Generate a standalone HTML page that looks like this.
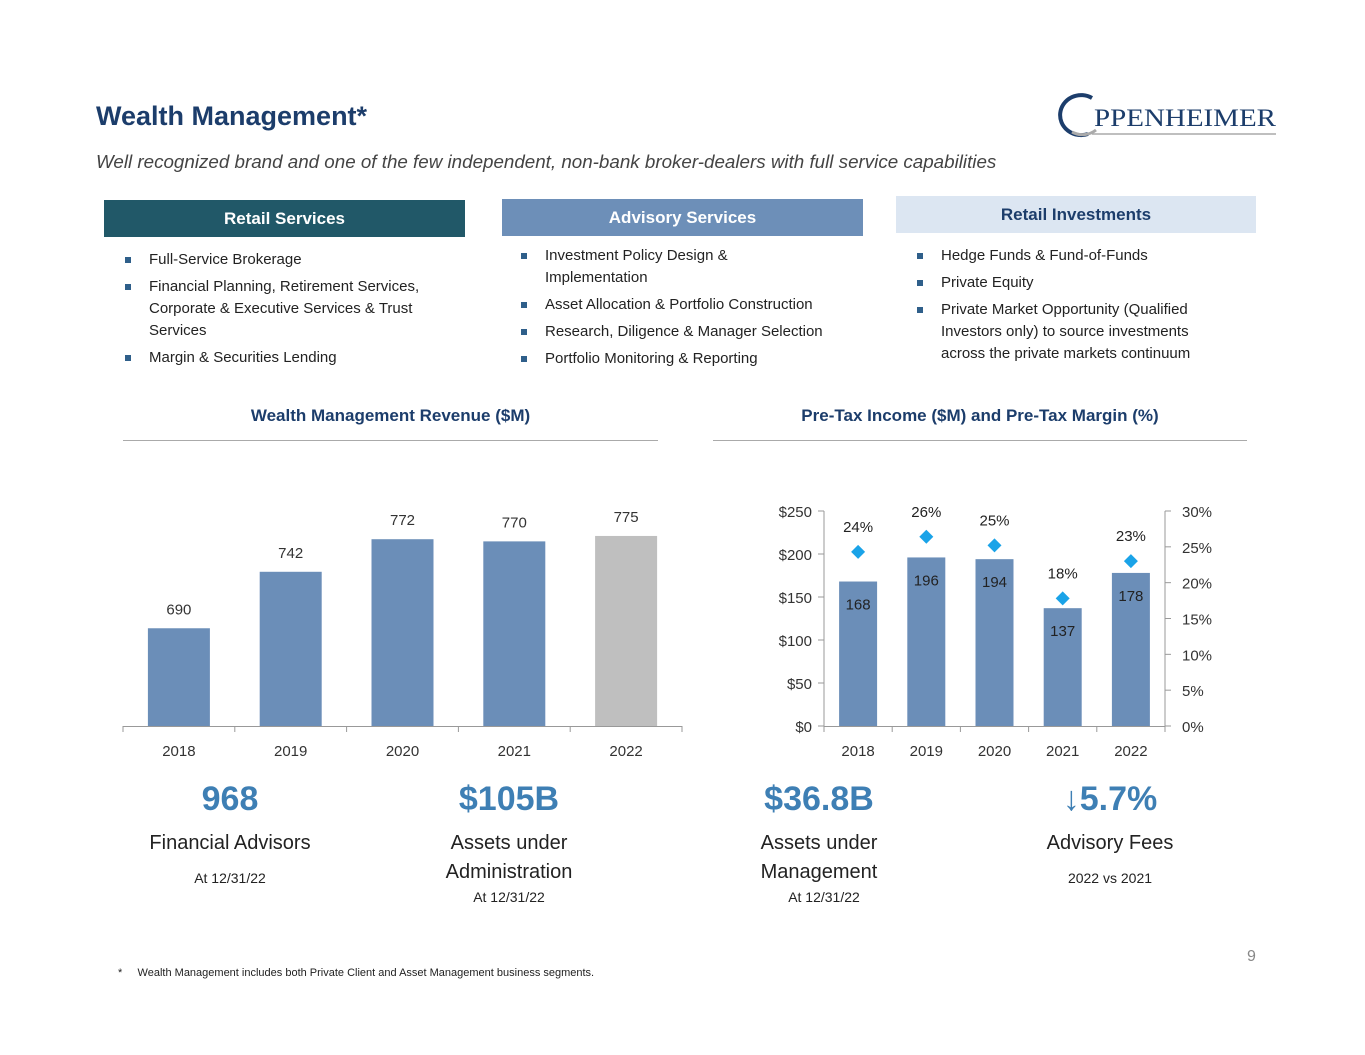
<!DOCTYPE html>
<html><head><meta charset="utf-8"><style>
body{margin:0;background:#fff;font-family:"Liberation Sans",sans-serif;}
#page{position:relative;width:1365px;height:1055px;overflow:hidden;background:#fff;}
.a{position:absolute;white-space:nowrap;}
.hdr{position:absolute;height:37px;line-height:37px;text-align:center;font-weight:bold;font-size:17px;}
ul{position:absolute;margin:0;padding:0;list-style:none;font-size:15px;color:#222;line-height:22px;}
li{position:relative;padding-left:26px;margin-bottom:5px;white-space:nowrap;}
li:before{content:"";position:absolute;left:2px;top:8px;width:6px;height:6px;background:#2f5f8a;}
.ct{position:absolute;font-weight:bold;font-size:17px;color:#1c3d6b;text-align:center;}
.rule{position:absolute;height:1px;background:#aaa;}
.big{position:absolute;font-weight:bold;font-size:34px;color:#3e7fb4;text-align:center;width:240px;}
.lbl{position:absolute;font-size:20px;color:#222;text-align:center;width:240px;line-height:29px;}
.sm{position:absolute;font-size:14px;color:#222;text-align:center;width:240px;}
</style></head><body>
<div id="page">
<div class="a" style="left:96px;top:101px;font-size:27px;font-weight:bold;color:#1c3d6b;">Wealth Management*</div>
<div class="a" style="left:96px;top:151px;font-size:18.8px;font-style:italic;color:#444;">Well recognized brand and one of the few independent, non-bank broker-dealers with full service capabilities</div>
<div style="position:absolute;left:1052px;top:90px;width:230px;height:50px;">
<svg width="230" height="50"><path d="M40 8 A21 20 0 1 0 36 44" fill="none" stroke="#1c3d6b" stroke-width="4"/><path d="M20 42 A21 20 0 0 0 44 40" fill="none" stroke="#aaa" stroke-width="3"/>
<text x="42" y="36" font-family="Liberation Serif,serif" font-size="25" fill="#1c3d6b" textLength="182" lengthAdjust="spacingAndGlyphs">PPENHEIMER</text><line x1="40" y1="44" x2="224" y2="44" stroke="#aaa" stroke-width="1.5"/></svg></div>

<div class="hdr" style="left:104px;top:200px;width:361px;background:#215868;color:#fff;">Retail Services</div>
<div class="hdr" style="left:502px;top:199px;width:361px;background:#6d8fb8;color:#fff;">Advisory Services</div>
<div class="hdr" style="left:896px;top:196px;width:360px;background:#dce6f2;color:#1c3d6b;">Retail Investments</div>

<ul style="left:123px;top:249px;">
<li>Full-Service Brokerage</li><li>Financial Planning, Retirement Services,<br>Corporate &amp; Executive Services &amp; Trust<br>Services</li><li>Margin &amp; Securities Lending</li></ul>
<ul style="left:519px;top:245px;">
<li>Investment Policy Design &amp;<br>Implementation</li><li>Asset Allocation &amp; Portfolio Construction</li><li>Research, Diligence &amp; Manager Selection</li><li>Portfolio Monitoring &amp; Reporting</li></ul>
<ul style="left:915px;top:245px;">
<li>Hedge Funds &amp; Fund-of-Funds</li><li>Private Equity</li><li>Private Market Opportunity (Qualified<br>Investors only) to source investments<br>across the private markets continuum</li></ul>

<div class="ct" style="left:123px;top:406px;width:535px;">Wealth Management Revenue ($M)</div>
<div class="rule" style="left:123px;top:440px;width:535px;"></div>
<div class="ct" style="left:713px;top:406px;width:534px;">Pre-Tax Income ($M) and Pre-Tax Margin (%)</div>
<div class="rule" style="left:713px;top:440px;width:534px;"></div>

<svg id="c1" style="position:absolute;left:0;top:0" width="700" height="780"></svg>
<svg id="c2" style="position:absolute;left:0;top:0" width="1365" height="780"></svg>

<div class="big" style="left:110px;top:780px;">968</div>
<div class="lbl" style="left:110px;top:829px;">Financial Advisors</div>
<div class="sm" style="left:110px;top:870px;">At 12/31/22</div>
<div class="big" style="left:389px;top:780px;">$105B</div>
<div class="lbl" style="left:389px;top:829px;">Assets under<br>Administration</div>
<div class="sm" style="left:389px;top:889px;">At 12/31/22</div>
<div class="big" style="left:699px;top:780px;">$36.8B</div>
<div class="lbl" style="left:699px;top:829px;">Assets under<br>Management</div>
<div class="sm" style="left:704px;top:889px;">At 12/31/22</div>
<div class="big" style="left:990px;top:780px;">↓5.7%</div>
<div class="lbl" style="left:990px;top:829px;">Advisory Fees</div>
<div class="sm" style="left:990px;top:870px;">2022 vs 2021</div>

<div class="a" style="left:1247px;top:948px;font-size:16px;color:#888;">9</div>
<div class="a" style="left:118px;top:967px;font-size:11px;color:#222;">*&nbsp;&nbsp;&nbsp;&nbsp;&nbsp;Wealth Management includes both Private Client and Asset Management business segments.</div>
</div>
<script>
const years=["2018","2019","2020","2021","2022"];
const revenue=[690,742,772,770,775];
const pretax=[168,196,194,137,178];
const margin=[24.3,26.4,25.2,17.8,23.0];
const marginLabels=["24%","26%","25%","18%","23%"];
const leftTicks=[0,50,100,150,200,250];
const rightTicks=[0,5,10,15,20,25,30];
const NS="http://www.w3.org/2000/svg";
function mk(svg,t,a,txt){const e=document.createElementNS(NS,t);for(const k in a)e.setAttribute(k,a[k]);if(txt!==undefined)e.textContent=txt;svg.appendChild(e);return e;}
const F='"Liberation Sans",sans-serif';
const s1=document.getElementById('c1');
const x1=i=>123+(682-123)/5*(i+0.5), y1=v=>726-(v-600)*1.086;
mk(s1,'line',{x1:123,y1:726.5,x2:682,y2:726.5,stroke:'#999'});
for(let i=0;i<=5;i++)mk(s1,'line',{x1:123+111.8*i,y1:726,x2:123+111.8*i,y2:732,stroke:'#999'});
revenue.forEach((v,i)=>{
 const r=mk(s1,'rect',{x:x1(i)-31,y:y1(v),width:62,height:726-y1(v),fill:i==4?'#bfbfbf':'#6b8eb8'});
 
 
 mk(s1,'text',{x:x1(i),y:y1(v)-14,'text-anchor':'middle','font-family':F,'font-size':15,fill:'#333'},String(v));
 mk(s1,'text',{x:x1(i),y:756,'text-anchor':'middle','font-family':F,'font-size':15,fill:'#333'},years[i]);
});
const s2=document.getElementById('c2');
const L=824,R=1165,bw=(R-L)/5;
const x2=i=>L+bw*(i+0.5), yl=v=>726-v*215/250, yr=v=>726-v*215/30;
mk(s2,'line',{x1:L,y1:511,x2:L,y2:726,stroke:'#999'});
mk(s2,'line',{x1:R,y1:511,x2:R,y2:726,stroke:'#999'});
mk(s2,'line',{x1:L,y1:726.5,x2:R,y2:726.5,stroke:'#999'});
leftTicks.forEach(t=>{mk(s2,'line',{x1:L-6,y1:yl(t),x2:L,y2:yl(t),stroke:'#999'});
 mk(s2,'text',{x:L-12,y:yl(t)+6,'text-anchor':'end','font-family':F,'font-size':15,fill:'#333'},'$'+t);});
rightTicks.forEach(t=>{mk(s2,'line',{x1:R,y1:yr(t),x2:R+6,y2:yr(t),stroke:'#999'});
 mk(s2,'text',{x:R+17,y:yr(t)+6,'font-family':F,'font-size':15,fill:'#333'},t+'%');});
for(let i=0;i<=5;i++)mk(s2,'line',{x1:L+bw*i,y1:726,x2:L+bw*i,y2:732,stroke:'#999'});
pretax.forEach((v,i)=>{
 const r=mk(s2,'rect',{x:x2(i)-19,y:yl(v),width:38,height:726-yl(v),fill:'#6b8eb8'});
 
 
 mk(s2,'text',{x:x2(i),y:yl(v)+28,'text-anchor':'middle','font-family':F,'font-size':15,fill:'#222'},String(v));
 mk(s2,'text',{x:x2(i),y:756,'text-anchor':'middle','font-family':F,'font-size':15,fill:'#333'},years[i]);
});
margin.forEach((m,i)=>{
 const cx=x2(i),cy=yr(m);
 const d=mk(s2,'polygon',{points:`${cx},${cy-7} ${cx+7},${cy} ${cx},${cy+7} ${cx-7},${cy}`,fill:'#1aa3e8'});
 
 
 mk(s2,'text',{x:cx,y:cy-20,'text-anchor':'middle','font-family':F,'font-size':15,fill:'#222'},marginLabels[i]);
});
</script>
</body></html>
